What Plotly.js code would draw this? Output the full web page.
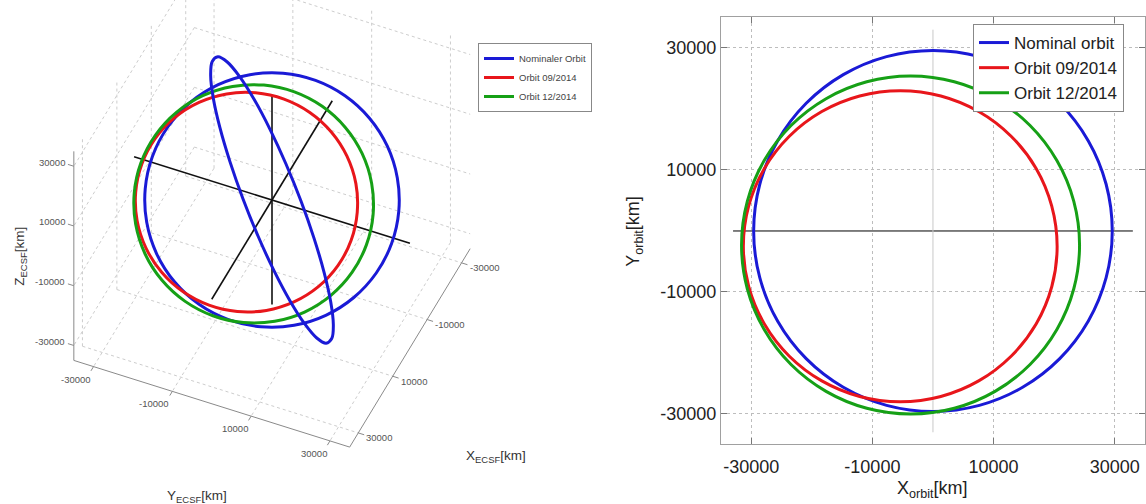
<!DOCTYPE html>
<html><head><meta charset="utf-8">
<script src="https://cdn.plot.ly/plotly-3.0.1.min.js"></script>
<style>html,body{margin:0;padding:0;background:#fff;} #chart{width:1146px;height:504px;}</style>
</head><body><div id="chart"></div>
<script>
// ---- data (km): orbit-plane coordinates ----
const nominalX = [29600,28590,25630,20930,14800,7660,0,-7660,-14800,-20930,-25630,-28590,-29600,-28590,-25630,-20930,-14800,-7660,0,7660,14800,20930,25630,28590,29600];
const nominalY = [0,7660,14800,20930,25630,28590,29600,28590,25630,20930,14800,7660,0,-7660,-14800,-20930,-25630,-28590,-29600,-28590,-25630,-20930,-14800,-7660,0];
const orbit0914X = [20500,19600,17030,12900,7550,1300,-5400,-12100,-18350,-23710,-27830,-30420,-31300,-30420,-27830,-23710,-18350,-12100,-5400,1300,7550,12900,17030,19620,20500];
const orbit0914Y = [-2500,4100,10250,15530,19580,22130,23000,22130,19580,15530,10250,4100,-2500,-9100,-15250,-20530,-24580,-27130,-28000,-27130,-24580,-20530,-15250,-9100,-2500];
const orbit1214X = [24200,23250,20460,16030,10250,3520,-3700,-10920,-17650,-23430,-27860,-30650,-31600,-30650,-27860,-23430,-17650,-10920,-3700,3520,10250,16030,20460,23250,24200];
const orbit1214Y = [-2300,4870,11550,17290,21690,24460,25400,24460,21690,17290,11550,4870,-2300,-9470,-16150,-21890,-26290,-29060,-30000,-29060,-26290,-21890,-16150,-9470,-2300];
const names3D = ['Nominaler Orbit','Orbit 09/2014','Orbit 12/2014'];
const names2D = ['Nominal orbit','Orbit 09/2014','Orbit 12/2014'];
const tickVals = [-30000,-10000,10000,30000];
const tickText = ['-30000','-10000','10000','30000'];
const axisRange = [-35000,35000];
const ecsfAxisLen = [-35000,35000];      // black ECSF axes through the origin
const orbitRefLine = [-33000,33000];     // reference lines in the orbit plane
// orientation (deg) of the drawn orbit planes in ECSF; second blue curve radius ≈ 35700 km
const planeMain = {inc:44, raan:113.6, argp:-20};
const planeSecond = {inc:82.8, raan:226.1, argp:0};
const secondScale = 35700/29600;
// MATLAB-style view of the 3-D panel (orthographic projection onto a 2-D axis pair)
const view = {az:23.6, el:46};
const pxPerKm = 0.0043, originPx = [272,200], leftPanelPx = [573,504];

const colors = ['#1a1ad6','#e8161b','#16a016'];
const FONT = 'Liberation Sans, Arial, sans-serif';
const DEG = Math.PI/180;

function toECSF(xs, ys, el, k){
  const i=el.inc*DEG, O=el.raan*DEG, w=el.argp*DEG;
  const P=[Math.cos(O)*Math.cos(w)-Math.sin(O)*Math.sin(w)*Math.cos(i), Math.sin(O)*Math.cos(w)+Math.cos(O)*Math.sin(w)*Math.cos(i), Math.sin(w)*Math.sin(i)];
  const Q=[-Math.cos(O)*Math.sin(w)-Math.sin(O)*Math.cos(w)*Math.cos(i), -Math.sin(O)*Math.sin(w)+Math.cos(O)*Math.cos(w)*Math.cos(i), Math.cos(w)*Math.sin(i)];
  k = k||1;
  return {x:xs.map((v,j)=>k*(v*P[0]+ys[j]*Q[0])), y:xs.map((v,j)=>k*(v*P[1]+ys[j]*Q[1])), z:xs.map((v,j)=>k*(v*P[2]+ys[j]*Q[2]))};
}
const phi=view.az*DEG, th=view.el*DEG;
const Rv=[-Math.sin(phi),Math.cos(phi),0];
const Uv=[-Math.sin(th)*Math.cos(phi),-Math.sin(th)*Math.sin(phi),Math.cos(th)];
function project(p){
  return {x:p.x.map((v,j)=>v==null?null:Rv[0]*v+Rv[1]*p.y[j]+Rv[2]*p.z[j]),
          y:p.x.map((v,j)=>v==null?null:Uv[0]*v+Uv[1]*p.y[j]+Uv[2]*p.z[j])};
}
function pt(x,y,z){ return {x:Rv[0]*x+Rv[1]*y+Rv[2]*z, y:Uv[0]*x+Uv[1]*y+Uv[2]*z}; }

const lo=axisRange[0], hi=axisRange[1];
function segs(list){ const o={x:[],y:[],z:[]}; list.forEach(s=>{o.x.push(s[0][0],s[1][0],null);o.y.push(s[0][1],s[1][1],null);o.z.push(s[0][2],s[1][2],null);}); return o; }

const traces=[];
// back-wall grid (x=lo wall, y=lo wall, floor z=lo)
const grid=[];
tickVals.forEach(t=>{
  grid.push([[lo,t,lo],[lo,t,hi]]); grid.push([[lo,lo,t],[lo,hi,t]]);
  grid.push([[t,lo,lo],[t,lo,hi]]); grid.push([[lo,lo,t],[hi,lo,t]]);
  grid.push([[t,lo,lo],[t,hi,lo]]); grid.push([[lo,t,lo],[hi,t,lo]]);
});
let g=project(segs(grid));
traces.push({type:'scatter',mode:'lines',x:g.x,y:g.y,xaxis:'x2',yaxis:'y2',line:{color:'#cdcdcd',width:1,dash:'dot'},showlegend:false,hoverinfo:'skip'});
// axis edges + ticks
const edges=[[[hi,lo,lo],[hi,lo,hi]],[[hi,lo,lo],[hi,hi,lo]],[[lo,hi,lo],[hi,hi,lo]]];
const tk=1500;
tickVals.forEach(t=>{
  edges.push([[hi,lo,t],[hi,lo-tk,t]]);
  edges.push([[hi,t,lo],[hi+tk,t,lo]]);
  edges.push([[t,hi,lo],[t,hi+tk,lo]]);
});
g=project(segs(edges));
traces.push({type:'scatter',mode:'lines',x:g.x,y:g.y,xaxis:'x2',yaxis:'y2',line:{color:'#8a8a8a',width:1},showlegend:false,hoverinfo:'skip'});
// black ECSF axes
const L0=ecsfAxisLen[0], L1=ecsfAxisLen[1];
g=project({x:[L0,L1,null,0,0,null,0,0],y:[0,0,null,L0,L1,null,0,0],z:[0,0,null,0,0,null,L0,L1]});
traces.push({type:'scatter',mode:'lines',x:g.x,y:g.y,xaxis:'x2',yaxis:'y2',line:{color:'#111',width:1.6},showlegend:false,hoverinfo:'skip'});

const inPlane=[[nominalX,nominalY],[orbit0914X,orbit0914Y],[orbit1214X,orbit1214Y]];
inPlane.forEach((p,n)=>{
  const c=project(toECSF(p[0],p[1],planeMain));
  traces.push({type:'scatter',mode:'lines',x:c.x,y:c.y,xaxis:'x2',yaxis:'y2',name:names3D[n],legend:'legend',
    line:{color:colors[n],width:3,shape:'spline',smoothing:1},hoverinfo:'skip'});
});
const c2=project(toECSF(nominalX,nominalY,planeSecond,secondScale));
traces.push({type:'scatter',mode:'lines',x:c2.x,y:c2.y,xaxis:'x2',yaxis:'y2',name:names3D[0],showlegend:false,
  line:{color:colors[0],width:3,shape:'spline',smoothing:1},hoverinfo:'skip'});

// ---- right panel ----
traces.push({type:'scatter',mode:'lines',x:orbitRefLine,y:[0,0],line:{color:'#000',width:1},showlegend:false,hoverinfo:'skip',xaxis:'x',yaxis:'y'});
traces.push({type:'scatter',mode:'lines',x:[0,0],y:orbitRefLine,line:{color:'#c8c8c8',width:1},showlegend:false,hoverinfo:'skip',xaxis:'x',yaxis:'y'});
inPlane.forEach((p,n)=>{
  traces.push({type:'scatter',mode:'lines',x:p[0],y:p[1],name:names2D[n],line:{color:colors[n],width:3,shape:'spline',smoothing:1},
    hoverinfo:'skip',xaxis:'x',yaxis:'y',legend:'legend2'});
});

// annotations for the 3-D panel (tick labels and titles at projected positions)
const ann=[];
const tf={size:9.5,color:'#555',family:FONT};
tickVals.forEach((t,j)=>{
  let q=pt(hi,lo,t); ann.push({xref:'x2',yref:'y2',x:q.x,y:q.y,text:tickText[j],showarrow:false,xanchor:'right',yanchor:'middle',xshift:-7,yshift:4,font:tf});
  q=pt(hi,t,lo); ann.push({xref:'x2',yref:'y2',x:q.x,y:q.y,text:tickText[j],showarrow:false,xanchor:'right',yanchor:'top',xshift:-1,yshift:-5,font:tf});
  q=pt(t,hi,lo); ann.push({xref:'x2',yref:'y2',x:q.x,y:q.y,text:tickText[j],showarrow:false,xanchor:'left',yanchor:'middle',xshift:6,yshift:-5,font:tf});
});
const ttf={size:13.5,color:'#333',family:FONT};
let q=pt(hi,lo,0); ann.push({xref:'x2',yref:'y2',x:q.x,y:q.y,text:'Z<sub>ECSF</sub>[km]',textangle:-90,showarrow:false,xanchor:'center',yanchor:'middle',xshift:-53,font:ttf});
q=pt(0,hi,lo); ann.push({xref:'x2',yref:'y2',x:q.x,y:q.y,text:'X<sub>ECSF</sub>[km]',showarrow:false,xanchor:'center',yanchor:'middle',xshift:86,yshift:-109,font:ttf});
q=pt(hi,0,lo); ann.push({xref:'x2',yref:'y2',x:q.x,y:q.y,text:'Y<sub>ECSF</sub>[km]',showarrow:false,xanchor:'center',yanchor:'middle',xshift:-15,yshift:-93,font:ttf});
ann.push({xref:'paper',yref:'paper',x:0.554,y:0.542,text:'Y<sub>orbit</sub>[km]',textangle:-90,showarrow:false,xanchor:'center',yanchor:'middle',font:{size:18,color:'#222',family:FONT}});
ann.push({xref:'paper',yref:'paper',x:0.814,y:0.0278,text:'X<sub>orbit</sub>[km]',showarrow:false,xanchor:'center',yanchor:'middle',font:{size:18,color:'#222',family:FONT}});

const W=leftPanelPx[0], H=leftPanelPx[1];
const layout={
  width:1146,height:504,margin:{l:0,r:0,t:0,b:0},paper_bgcolor:'#fff',plot_bgcolor:'rgba(0,0,0,0)',
  font:{family:FONT,color:'#222'},
  xaxis2:{domain:[0,W/1146],range:[-originPx[0]/pxPerKm,(W-originPx[0])/pxPerKm],visible:false,fixedrange:true,anchor:'y2'},
  yaxis2:{domain:[0,1],range:[-(H-originPx[1])/pxPerKm,originPx[1]/pxPerKm],visible:false,fixedrange:true,anchor:'x2'},
  xaxis:{domain:[0.6291,0.9991],range:axisRange,tickvals:tickVals,ticktext:tickText,showgrid:true,gridcolor:'#bdbdbd',griddash:'dot',
    zeroline:false,showline:true,linecolor:'#a0a0a0',mirror:'ticks',ticks:'inside',ticklen:6,tickcolor:'#777',ticklabelstandoff:6,
    tickfont:{size:18,color:'#222',family:FONT},anchor:'y',fixedrange:true},
  yaxis:{domain:[0.1181,0.9653],range:axisRange,tickvals:tickVals,ticktext:tickText,showgrid:true,gridcolor:'#bdbdbd',griddash:'dot',
    zeroline:false,showline:true,linecolor:'#a0a0a0',mirror:'ticks',ticks:'inside',ticklen:6,tickcolor:'#777',
    tickfont:{size:18,color:'#222',family:FONT},anchor:'x',fixedrange:true},
  legend:{x:478/1146,y:1-43/504,xanchor:'left',yanchor:'top',bgcolor:'#fff',bordercolor:'#888',borderwidth:1,
    font:{size:9.5,color:'#444',family:FONT},tracegroupgap:0},
  legend2:{x:973/1146,y:1-24/504,xanchor:'left',yanchor:'top',bgcolor:'#fff',bordercolor:'#888',borderwidth:1,
    font:{size:17,color:'#222',family:FONT},tracegroupgap:0},
  annotations:ann
};
Plotly.newPlot('chart',traces,layout,{displayModeBar:false,staticPlot:true});
</script></body></html>
